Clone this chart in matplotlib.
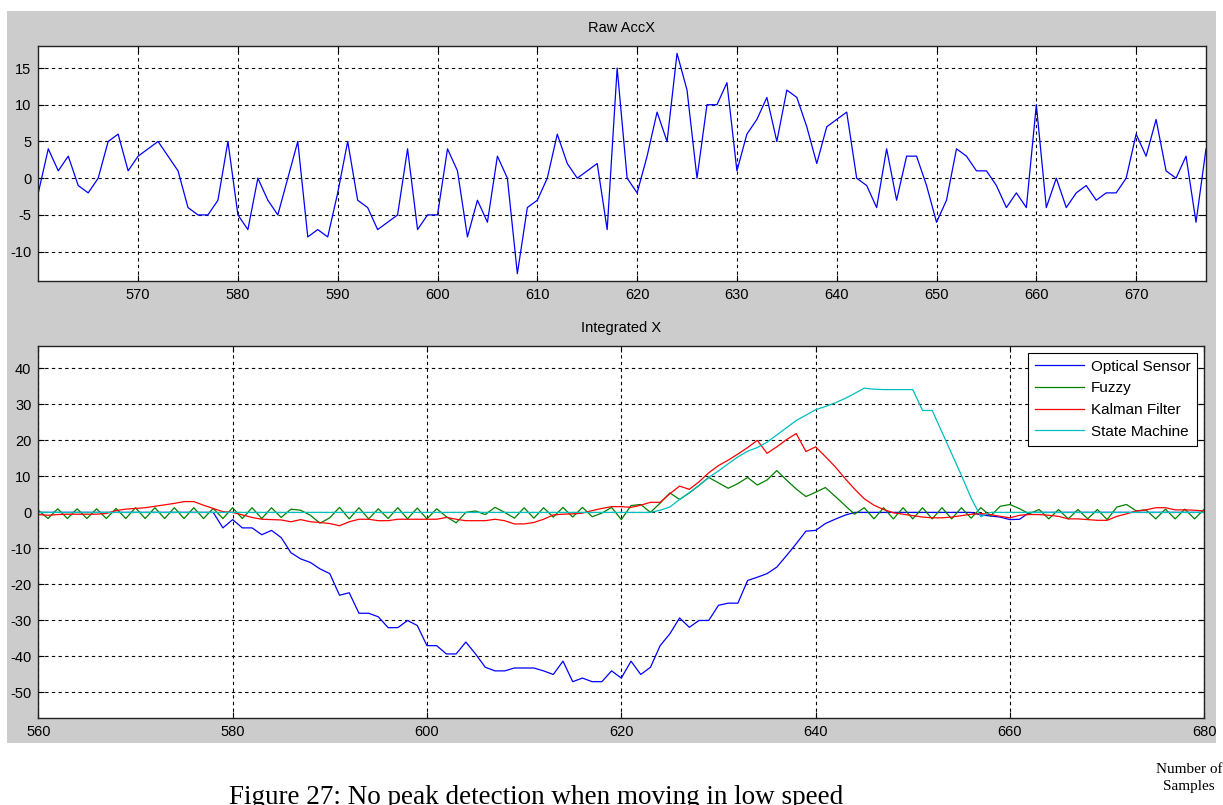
import matplotlib
matplotlib.use("Agg")
import matplotlib.pyplot as plt
from matplotlib.patches import Rectangle

# ---- data -------------------------------------------------------------
raw_start = 560
raw_accx = [
    -2, 4, 1, 3, -1, -2, 0, 5, 6, 1,          # 560-569
    3, 4, 5, 3, 1, -4, -5, -5, -3, 5,         # 570-579
    -5, -7, 0, -3, -5, 0, 5, -8, -7, -8,      # 580-589
    -2, 5, -3, -4, -7, -6, -5, 4, -7, -5,     # 590-599
    -5, 4, 1, -8, -3, -6, 3, 0, -13, -4,      # 600-609
    -3, 0, 6, 2, 0, 1, 2, -7, 15, 0,          # 610-619
    -2, 3, 9, 5, 17, 12, 0, 10, 10, 13,       # 620-629
    1, 6, 8, 11, 5, 12, 11, 7, 2, 7,          # 630-639
    8, 9, 0, -1, -4, 4, -3, 3, 3, -1,         # 640-649
    -6, -3, 4, 3, 1, 1, -1, -4, -2, -4,       # 650-659
    10, -4, 0, -4, -2, -1, -3, -2, -2, 0,     # 660-669
    6, 3, 8, 1, 0, 3, -6, 4,                  # 670-677
]

int_start = 560
optical_sensor = (
    [0] * 19 +                                                       # 560-578
    [-4.3, -2, -4.3, -4.3, -6.2, -5, -7, -11.2, -12.9, -13.9,       # 579-588
     -15.7, -17, -23, -22.3, -28, -28, -29, -32, -32, -30,          # 589-598
     -31.4, -37, -37, -39.3, -39.3, -36, -39.3, -43, -44, -44,      # 599-608
     -43.2, -43.2, -43.2, -44, -45, -41.3, -47, -46, -47, -47,      # 609-618
     -44, -46, -41.3, -45, -43, -37, -33.7, -29.3, -31.9, -30,      # 619-628
     -30, -25.8, -25.2, -25.2, -18.9, -18, -17, -15.2, -12, -8.7,   # 629-638
     -5.2, -5, -3.1, -1.9, -0.8] +                                   # 639-643
    [0] * 13 +                                                       # 644-656
    [-0.7, -1, -1.3, -2, -1.9] +                                     # 657-661
    [0] * 19                                                         # 662-680
)

fuzzy = [
    0.6, -1.7, 1.0, -1.7, 1.0, -1.7, 1.0, -1.7, 1.1, -1.7,          # 560-569
    1.3, -1.7, 1.3, -1.7, 1.3, -1.7, 1.3, -1.7, 1.1, -1.7,          # 570-579
    1.3, -1.7, 1.3, -1.7, 1.3, -1.4, 0.9, 0.6, -0.8, -3.0,          # 580-589
    -1.5, 1.4, -1.8, 1.3, -1.8, 1.0, -1.7, 1.3, -1.8, 1.2,          # 590-599
    -1.8, 1.0, -1.2, -2.9, 0.0, 0.4, -0.6, 1.4, 0.0, -1.6,          # 600-609
    1.3, -1.6, 1.3, -1.3, 1.4, -1.3, 1.4, -1.2, -0.2, 1.4,          # 610-619
    -2.0, 1.9, 2.2, 0.0, 2.6, 5.4, 3.6, 5.4, 7.5, 9.7,              # 620-629
    8.2, 6.7, 8.0, 9.7, 7.6, 9.0, 11.6, 9.0, 6.5, 4.4,              # 630-639
    5.6, 6.9, 4.5, 2.0, -0.5, 1.3, -1.8, 1.3, -1.8, 1.3,            # 640-649
    -1.8, 1.3, -1.8, 1.3, -1.8, 1.3, -1.6, 1.3, -1.0, 1.7,          # 650-659
    2.2, 1.0, -0.4, 0.8, -1.8, 0.8, -1.8, 0.8, -1.8, 0.8,           # 660-669
    -2.0, 1.5, 2.2, 0.4, 0.7, -1.8, 0.9, -1.8, 0.9, -1.8,           # 670-679
    0.9,                                                             # 680
]

kalman_filter = [
    -0.6, -0.8, -0.6, -0.5, -0.5, -0.5, -0.5, -0.3, 0.5, 0.9,       # 560-569
    1.1, 1.3, 1.7, 2.1, 2.5, 3.0, 3.0, 2.0, 1.1, 0.2,               # 570-579
    0.0, -0.7, -1.4, -1.9, -2.0, -2.1, -2.6, -2.0, -2.6, -2.8,      # 580-589
    -3.1, -3.7, -2.6, -1.9, -1.9, -2.3, -2.3, -1.9, -1.9, -1.9,     # 590-599
    -1.9, -1.9, -1.4, -1.9, -2.3, -2.3, -2.3, -1.9, -2.3, -3.2,     # 600-609
    -3.2, -2.8, -1.9, -0.7, -0.5, -0.4, -0.2, 0.5, 1.1, 1.6,        # 610-619
    1.6, 1.4, 2.0, 2.8, 2.8, 5.2, 7.3, 6.4, 8.5, 11.0,              # 620-629
    13.0, 14.5, 16.2, 18.0, 20.0, 16.4, 18.2, 20.2, 21.9, 16.9,     # 630-639
    18.2, 15.5, 12.7, 9.5, 6.5, 3.8, 2.0, 0.8, -0.1, -0.5,          # 640-649
    -0.9, -1.3, -1.5, -1.5, -1.3, -0.9, -0.5, -0.3, -0.6, -1.1,     # 650-659
    -1.5, -0.8, -0.6, -0.6, -0.8, -1.1, -1.8, -1.8, -2.0, -2.2,     # 660-669
    -2.2, -1.1, -0.4, 0.4, 0.7, 1.3, 1.3, 0.7, 0.7, 0.6,            # 670-679
    0.4,                                                             # 680
]

state_machine = (
    [0] * 64 +                                                       # 560-623
    [0.6, 1.5, 3.6, 5.5, 7.5, 9.7, 11.5, 13.5, 15.4, 17.0,          # 624-633
     18.0, 19.5, 21.5, 23.5, 25.5, 27.0, 28.5, 29.4, 30.4, 31.6,    # 634-643
     33.0, 34.5, 34.2, 34.1, 34.1, 34.1, 34.1, 28.3, 28.3, 22.3,    # 644-653
     16.3, 10.3, 4.0, -1.2] +                                        # 654-657
    [0] * 23                                                         # 658-680
)

series_names = ["Optical Sensor", "Fuzzy", "Kalman Filter", "State Machine"]
series_colors = ["#0000FF", "#008000", "#FF0000", "#00BFBF"]

raw_xticks = [570, 580, 590, 600, 610, 620, 630, 640, 650, 660, 670]
raw_yticks = [-10, -5, 0, 5, 10, 15]
int_xticks = [560, 580, 600, 620, 640, 660, 680]
int_yticks = [-50, -40, -30, -20, -10, 0, 10, 20, 30, 40]

# ---- figure -----------------------------------------------------------
W, H = 1223, 805
plt.rcParams["font.family"] = ["Liberation Sans", "DejaVu Sans"]
plt.rcParams["axes.unicode_minus"] = False
fig = plt.figure(figsize=(W / 100, H / 100), dpi=100)
fig.patch.set_facecolor("white")

# grey window background behind both panels
fig.patches.append(Rectangle((7 / W, 1 - 743 / H), (1216 - 7) / W, (743 - 11) / H,
                             transform=fig.transFigure, facecolor="#CCCCCC",
                             edgecolor="none", zorder=-10))


def px_axes(left, top, right, bottom):
    ax = fig.add_axes([left / W, 1 - bottom / H, (right - left) / W, (bottom - top) / H])
    ax.set_zorder(1)
    return ax


def style_axes(ax, xticks, yticks):
    ax.set_facecolor("white")
    ax.set_xticks(xticks)
    ax.set_yticks(yticks)
    ax.grid(True, color="black", linestyle=(0, (3, 3)), linewidth=0.8)
    ax.tick_params(direction="in", length=4, width=0.8, top=True, right=True,
                   labelsize=10.5, colors="black", pad=5)
    for sp in ax.spines.values():
        sp.set_linewidth(1.0)
        sp.set_color("#222222")


# top panel: raw acceleration
ax1 = px_axes(38.3, 46, 1206, 281)
raw_x = list(range(raw_start, raw_start + len(raw_accx)))
ax1.plot(raw_x, raw_accx, color="#0000FF", linewidth=0.9)
ax1.set_xlim(560, 677)
ax1.set_ylim(-14, 18)
style_axes(ax1, raw_xticks, raw_yticks)
fig.text(622 / W, 1 - 28 / H, "Raw AccX", ha="center", va="center", fontsize=10.5)

# bottom panel: integrated velocity estimates
ax2 = px_axes(38.3, 346, 1204.3, 717.7)
int_x = list(range(int_start, int_start + len(optical_sensor)))
for vals, name, col in zip([optical_sensor, fuzzy, kalman_filter, state_machine],
                           series_names, series_colors):
    ax2.plot(int_x, vals, color=col, linewidth=0.9, label=name)
ax2.set_xlim(560, 680)
ax2.set_ylim(-57, 46.2)
style_axes(ax2, int_xticks, int_yticks)
fig.text(621 / W, 1 - 328 / H, "Integrated X", ha="center", va="center", fontsize=10.5)

leg = ax2.legend(loc="upper right", fontsize=11, frameon=True, fancybox=False,
                 handlelength=3.2, handletextpad=0.45, borderpad=0.45,
                 labelspacing=0.5, borderaxespad=0.45)
leg.get_frame().set_edgecolor("black")
leg.get_frame().set_linewidth(0.8)
leg.get_frame().set_alpha(1)

# caption and axis note
fig.text(536 / W, 1 / H, "Figure 27: No peak detection when moving in low speed",
         ha="center", va="baseline", fontsize=19.5, family="Liberation Serif")
fig.text(1189 / W, 1 - 778 / H, "Number of\nSamples", ha="center", va="center",
         fontsize=11, family="Liberation Serif", linespacing=1.45)

fig.savefig("out.png", dpi=100)
